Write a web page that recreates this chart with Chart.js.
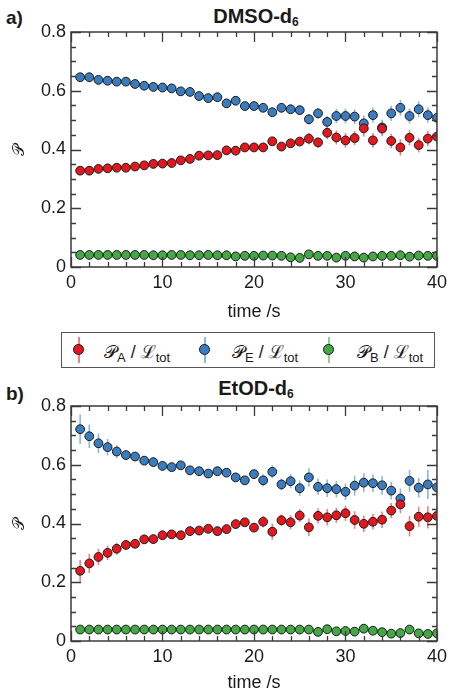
<!DOCTYPE html>
<html>
<head>
<meta charset="utf-8">
<script src="https://cdn.jsdelivr.net/npm/chart.js@4"></script>
<style>
  html, body { margin:0; padding:0; background:#fff; }
  body { width:452px; height:691px; position:relative; overflow:hidden; font-family:'Liberation Sans', Arial, sans-serif; color:#1a1a1a; }
  canvas { position:absolute; left:0; }
  .title { position:absolute; font-weight:bold; font-size:20px; transform:translateX(-50%); white-space:nowrap; }
  .title sub { font-size:12px; vertical-align:-3px; }
  .panel { position:absolute; font-weight:bold; font-size:19px; }
  #legend { position:absolute; left:61px; top:332px; width:372px; height:34px; border:1.5px solid #555; box-sizing:content-box; }
  .bar { position:absolute; width:1.5px; height:26px; top:4px; }
  .dot { position:absolute; width:9px; height:9px; border-radius:50%; border:1px solid #1a1a1a; top:11px; }
  .lt { position:absolute; top:6px; font-size:18px; white-space:nowrap; font-family:'DejaVu Serif', 'Liberation Serif', serif; }
  .lt span.s { font-family:'Liberation Sans', Arial, sans-serif; font-size:13px; vertical-align:-4px; }
  .lt span.sl { font-family:'Liberation Sans', Arial, sans-serif; }
</style>
</head>
<body>
<div class="panel" style="left:6px; top:7px;">a)</div>
<div class="title" style="left:256px; top:5px;">DMSO-d<sub>6</sub></div>
<canvas id="c1" width="452" height="330" style="top:0px"></canvas>

<div id="legend">
  <div class="bar" style="left:16px; background:#f07f82;"></div>
  <div class="dot" style="left:11px; background:#e3181f;"></div>
  <div class="lt" style="left:42px;">𝒫<span class="s">A</span><span class="sl"> / </span>ℒ<span class="s">tot</span></div>
  <div class="bar" style="left:142px; background:#8db6df;"></div>
  <div class="dot" style="left:137px; background:#3a7cbd;"></div>
  <div class="lt" style="left:170px;">𝒫<span class="s">E</span><span class="sl"> / </span>ℒ<span class="s">tot</span></div>
  <div class="bar" style="left:266px; background:#8fd08c;"></div>
  <div class="dot" style="left:261px; background:#44a844;"></div>
  <div class="lt" style="left:295px;">𝒫<span class="s">B</span><span class="sl"> / </span>ℒ<span class="s">tot</span></div>
</div>

<div class="panel" style="left:6px; top:383px;">b)</div>
<div class="title" style="left:256px; top:377px;">EtOD-d<sub>6</sub></div>
<canvas id="c2" width="452" height="330" style="top:374px"></canvas>

<script>
// ---------- data ----------
const time = [1,2,3,4,5,6,7,8,9,10,11,12,13,14,15,16,17,18,19,20,21,22,23,24,25,26,27,28,29,30,31,32,33,34,35,36,37,38,39,40];

// DMSO-d6
const dmsoA = [0.328,0.328,0.334,0.336,0.338,0.338,0.342,0.346,0.351,0.352,0.354,0.363,0.368,0.379,0.380,0.381,0.397,0.396,0.407,0.407,
               0.407,0.428,0.410,0.421,0.427,0.437,0.424,0.457,0.441,0.431,0.439,0.472,0.431,0.471,0.429,0.407,0.440,0.415,0.437,0.444];
const dmsoAErr = [0.005,0.005,0.005,0.005,0.005,0.005,0.005,0.005,0.005,0.006,0.006,0.006,0.006,0.006,0.007,0.007,0.008,0.008,0.009,0.009,
                  0.010,0.012,0.010,0.012,0.012,0.020,0.018,0.022,0.024,0.025,0.024,0.028,0.025,0.026,0.025,0.028,0.026,0.025,0.026,0.025];
const dmsoE = [0.646,0.646,0.637,0.634,0.631,0.631,0.623,0.617,0.613,0.611,0.608,0.598,0.596,0.582,0.575,0.578,0.557,0.566,0.548,0.548,
               0.542,0.527,0.542,0.537,0.534,0.503,0.523,0.494,0.514,0.514,0.512,0.489,0.517,0.475,0.523,0.542,0.514,0.537,0.517,0.508];
const dmsoEErr = [0.005,0.005,0.005,0.005,0.005,0.005,0.005,0.005,0.005,0.006,0.006,0.006,0.006,0.006,0.007,0.007,0.008,0.008,0.009,0.009,
                  0.010,0.012,0.010,0.012,0.012,0.018,0.018,0.020,0.024,0.025,0.025,0.026,0.026,0.026,0.026,0.027,0.026,0.027,0.026,0.025];
const dmsoB = [0.041,0.041,0.041,0.041,0.041,0.041,0.041,0.041,0.040,0.040,0.041,0.041,0.040,0.040,0.041,0.040,0.040,0.036,0.038,0.038,
               0.039,0.039,0.038,0.033,0.031,0.043,0.038,0.038,0.032,0.038,0.036,0.032,0.036,0.038,0.038,0.040,0.035,0.039,0.038,0.038];
const dmsoBErr = [0.004,0.004,0.004,0.004,0.004,0.004,0.004,0.004,0.004,0.004,0.004,0.004,0.004,0.004,0.004,0.004,0.004,0.004,0.004,0.004,
                  0.004,0.004,0.004,0.004,0.004,0.005,0.005,0.005,0.005,0.005,0.005,0.005,0.005,0.005,0.005,0.005,0.005,0.005,0.005,0.005];

// EtOD-d6
const etA = [0.239,0.264,0.286,0.300,0.314,0.327,0.331,0.346,0.347,0.360,0.363,0.360,0.374,0.376,0.382,0.374,0.381,0.398,0.404,0.386,
             0.406,0.372,0.411,0.404,0.427,0.387,0.426,0.421,0.428,0.435,0.412,0.399,0.406,0.413,0.444,0.465,0.391,0.423,0.421,0.426];
const etAErr = [0.037,0.033,0.028,0.024,0.020,0.015,0.013,0.012,0.012,0.012,0.012,0.012,0.012,0.012,0.012,0.012,0.013,0.013,0.014,0.014,
                0.020,0.028,0.020,0.024,0.022,0.030,0.026,0.028,0.026,0.026,0.030,0.028,0.026,0.028,0.026,0.030,0.035,0.034,0.038,0.034];
const etE = [0.721,0.697,0.673,0.660,0.645,0.633,0.628,0.614,0.609,0.596,0.592,0.598,0.581,0.578,0.570,0.578,0.573,0.557,0.547,0.568,
             0.547,0.576,0.533,0.544,0.520,0.557,0.525,0.520,0.517,0.508,0.529,0.539,0.537,0.530,0.512,0.485,0.545,0.522,0.533,0.523];
const etEErr = [0.050,0.040,0.033,0.028,0.022,0.014,0.012,0.012,0.012,0.012,0.012,0.012,0.012,0.012,0.012,0.012,0.013,0.013,0.014,0.014,
                0.020,0.022,0.020,0.024,0.026,0.031,0.028,0.030,0.028,0.028,0.034,0.032,0.030,0.032,0.030,0.034,0.037,0.034,0.050,0.040];
const etB = [0.039,0.039,0.039,0.039,0.039,0.039,0.039,0.039,0.039,0.039,0.039,0.039,0.039,0.039,0.039,0.039,0.039,0.039,0.039,0.039,
             0.039,0.039,0.039,0.039,0.039,0.039,0.031,0.040,0.033,0.034,0.032,0.042,0.035,0.030,0.025,0.027,0.039,0.026,0.024,0.026];
const etBErr = [0.005,0.005,0.005,0.005,0.005,0.005,0.005,0.005,0.005,0.005,0.005,0.005,0.005,0.005,0.005,0.005,0.005,0.005,0.005,0.005,
                0.005,0.005,0.005,0.005,0.005,0.006,0.006,0.006,0.006,0.006,0.006,0.006,0.006,0.006,0.006,0.006,0.006,0.006,0.006,0.006];

const xTicks = [0,10,20,30,40];
const yTicks = [0,0.2,0.4,0.6,0.8];

// ---------- styles ----------
const COLORS = {
  A: {fill:'#e3181f', err:'#f07f82'},
  E: {fill:'#3a7cbd', err:'#8db6df'},
  B: {fill:'#44a844', err:'#8fd08c'}
};
const AXIS_COLOR = '#3a3a3a';
const TICK_FONT = {family:"'Liberation Sans', Arial, sans-serif", size:18};

function series(vals, errs) {
  return time.map((t,i)=>({x:t, y:vals[i], e:errs[i]}));
}
function ds(label, vals, errs, c) {
  return {
    label, data: series(vals, errs),
    backgroundColor: c.fill, borderColor:'#1a1a1a', borderWidth:1,
    pointRadius:4.4, pointHoverRadius:4.4, showLine:false, clip:0,
    errColor: c.err
  };
}

const errorBars = {
  id:'errorBars',
  beforeDatasetsDraw(chart){
    const {ctx, chartArea:a, scales:{x, y}} = chart;
    ctx.save();
    ctx.beginPath(); ctx.rect(a.left, a.top, a.right-a.left, a.bottom-a.top); ctx.clip();
    ctx.lineWidth = 1.6;
    chart.data.datasets.forEach(d=>{
      ctx.strokeStyle = d.errColor;
      d.data.forEach(p=>{
        const px = x.getPixelForValue(p.x);
        ctx.beginPath();
        ctx.moveTo(px, y.getPixelForValue(p.y - p.e));
        ctx.lineTo(px, y.getPixelForValue(p.y + p.e));
        ctx.stroke();
      });
    });
    ctx.restore();
  }
};

const frameTicks = {
  id:'frameTicks',
  afterDatasetsDraw(chart){
    const {ctx, chartArea:a, scales:{x, y}} = chart;
    ctx.save();
    ctx.strokeStyle = AXIS_COLOR;
    ctx.lineWidth = 1.5;
    ctx.strokeRect(a.left, a.top, a.right-a.left, a.bottom-a.top);
    ctx.lineWidth = 1.3;
    const MAJ = 10, MIN = 5;
    for (let v = 0; v <= 40.001; v += 2) {
      const px = Math.round(x.getPixelForValue(v)) + 0.5;
      const L = (Math.abs(v % 10) < 1e-6) ? MAJ : MIN;
      ctx.beginPath();
      ctx.moveTo(px, a.bottom); ctx.lineTo(px, a.bottom - L);
      ctx.moveTo(px, a.top); ctx.lineTo(px, a.top + L);
      ctx.stroke();
    }
    for (let k = 0; k <= 16; k++) {
      const v = k*0.05;
      const py = Math.round(y.getPixelForValue(v)) + 0.5;
      const L = (k % 4 === 0) ? MAJ : MIN;
      ctx.beginPath();
      ctx.moveTo(a.left, py); ctx.lineTo(a.left + L, py);
      ctx.moveTo(a.right, py); ctx.lineTo(a.right - L, py);
      ctx.stroke();
    }
    ctx.restore();
  }
};

function makeChart(id, A, AE, E, EE, B, BE, titlePad) {
  return new Chart(document.getElementById(id), {
    type:'scatter',
    data:{ datasets:[
      ds('𝒫A / ℒtot', A, AE, COLORS.A),
      ds('𝒫E / ℒtot', E, EE, COLORS.E),
      ds('𝒫B / ℒtot', B, BE, COLORS.B)
    ]},
    options:{
      responsive:false, animation:false,
      layout:{ padding:{ left:0, right:11, top:32, bottom:0 } },
      plugins:{ legend:{display:false}, tooltip:{enabled:false} },
      scales:{
        x:{
          type:'linear', min:0, max:40,
          afterBuildTicks(s){ s.ticks = xTicks.map(v=>({value:v})); },
          afterFit(s){ s.height = 63; },
          grid:{display:false, drawTicks:false},
          border:{display:false},
          ticks:{ font:TICK_FONT, color:'#1a1a1a', padding:5, maxRotation:0, autoSkip:false },
          title:{ display:true, text:'time /s', font:TICK_FONT, color:'#1a1a1a', padding:{top:0, bottom:titlePad} }
        },
        y:{
          type:'linear', min:0, max:0.8,
          afterBuildTicks(s){ s.ticks = yTicks.map(v=>({value:v})); },
          afterFit(s){ s.width = 71; },
          grid:{display:false, drawTicks:false},
          border:{display:false},
          ticks:{ font:TICK_FONT, color:'#1a1a1a', padding:5, autoSkip:false,
                  callback:(v)=> v === 0 ? '0' : Number(v).toFixed(1) },
          title:{ display:true, text:'𝒫', font:{family:"'DejaVu Serif', serif", size:16}, color:'#1a1a1a', padding:{top:10, bottom:0} }
        }
      }
    },
    plugins:[errorBars, frameTicks]
  });
}

makeChart('c1', dmsoA, dmsoAErr, dmsoE, dmsoEErr, dmsoB, dmsoBErr, 7);
makeChart('c2', etA, etAErr, etE, etEErr, etB, etBErr, 10);
</script>
</body>
</html>
